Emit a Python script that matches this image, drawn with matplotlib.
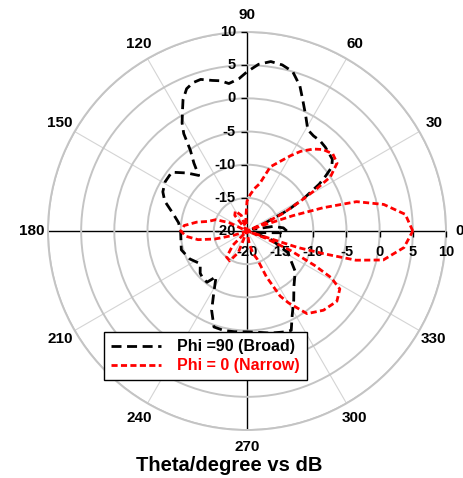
import numpy as np
import matplotlib
matplotlib.use("Agg")
import matplotlib.pyplot as plt
from matplotlib.transforms import offset_copy

plt.rcParams["font.family"] = ["Liberation Sans", "DejaVu Sans"]
plt.rcParams["font.weight"] = "bold"

# Radiation pattern, Phi = 90 plane (broad beam): angle in degrees, gain in dB
broad_theta = [0, 5, 10, 15, 20, 24, 27, 30, 33, 35, 37, 40, 43, 47, 51, 55, 59,
               63, 67, 70, 74, 78, 82, 86, 90, 93, 97, 100, 103, 107, 110, 113,
               116, 118, 121, 123, 125, 128, 131, 136, 142, 149, 155, 160, 167,
               173, 180, 190, 196, 206, 215, 222, 226, 232, 236, 238, 242, 246,
               251, 257, 263, 270, 277, 283, 290, 294, 298, 304, 310, 316, 320,
               326, 332, 340, 348, 353, 357, 360]
broad_db = [-14, -14.5, -16, -19, -19, -17, -13, -10, -7, -5.5, -4, -3.2, -3,
            -2.7, -2.5, -2.5, -2.2, -0.5, 1.5, 3.3, 5, 5.6, 5.8, 5.2, 4, 3, 2.4,
            3, 3.3, 3.9, 3.8, 3.3, 2, 0.7, -1, -2.5, -5.1, -7, -8.9, -7.4, -5.6,
            -5.6, -6, -6.8, -8.6, -9.6, -10, -9.9, -9.7, -10.4, -11.4, -10.5,
            -10.3, -10.2, -11.7, -11, -9.3, -6.9, -4.7, -4.6, -4.7, -4.8, -4.6,
            -4.2, -3.8, -3.6, -5.5, -7.4, -9, -10, -10.5, -12, -13, -16, -19,
            -18, -15, -14]

# Radiation pattern, Phi = 0 plane (narrow beam)
narrow_theta = [0, 6, 11, 15, 17, 18.5, 20, 22, 24, 26, 29, 31, 33, 37, 42, 47,
                51, 56, 60, 65, 70, 75, 80, 85, 90, 95, 100, 110, 120, 128, 135,
                145, 155, 160, 166, 170, 175, 180, 185, 190, 194, 198, 205, 215,
                225, 232, 240, 248, 255, 265, 280, 285, 290, 293, 297, 300, 306,
                314, 322, 328, 331, 333, 336, 339, 340.5, 342, 343.5, 345, 348,
                354, 360]
narrow_db = [5, 4, 1, -2.9, -8, -12.7, -18, -20, -17, -14, -11, -8, -5, -3,
             -2.6, -3.2, -4.1, -5.5, -6.9, -8.5, -9.7, -12.6, -13.5, -14.5,
             -15.5, -18, -20, -17.5, -16.5, -17, -20, -20, -17, -15, -14, -12.3,
             -10.5, -10, -10.8, -12.5, -15, -18, -20, -20, -17, -15, -14.8,
             -16.5, -20, -20, -18, -16.5, -15.5, -12.5, -9, -7.5, -4.6, -3.4,
             -2.8, -3.5, -5.5, -8.5, -12.9, -17, -20, -12, -8, -3, 1, 3.8, 5]

ring_values = [-15, -10, -5, 0, 5, 10]
axis_labels = ["-20", "-15", "-10", "-5", "0", "5", "10"]
axis_values = [-20, -15, -10, -5, 0, 5, 10]
angle_ticks = list(range(0, 360, 30))

fig = plt.figure(figsize=(4.64, 4.78), dpi=100)
ax = fig.add_axes([0.1034, 0.1004, 0.8578, 0.8326], projection="polar")
ax.set_rlim(-20, 10)
ax.set_rticks(ring_values)
ax.set_yticklabels([])
ax.set_xticks(np.deg2rad(angle_ticks))
# the 0 degree label is placed by hand so it stays inside the canvas
ax.set_xticklabels([str(a) if a != 0 else "" for a in angle_ticks],
                   fontsize=11, fontweight="bold")
ax.tick_params(axis="x", pad=2, length=3, color="#c8c8c8", direction="out")
ax.tick_params(axis="y", length=0)
right_off = offset_copy(ax.transData, fig=fig, x=7, y=0, units="points")
ax.text(0, 10, "0", transform=right_off, ha="left", va="center",
        fontsize=11, fontweight="bold", clip_on=False)

ax.yaxis.grid(True, color="#c4c4c4", lw=1.4)
ax.xaxis.grid(True, color="#d4d4d4", lw=0.8)
for ang, gl in zip(angle_ticks, ax.xaxis.get_gridlines()):
    if ang % 90 == 0:
        gl.set_color("black")
        gl.set_linewidth(1.0)
ax.spines["polar"].set_color("#c4c4c4")
ax.spines["polar"].set_linewidth(1.4)

# small ticks on the black cross axes
ax.plot(np.zeros(len(axis_values)), axis_values, ls="none", marker=3,
        ms=4, mew=1, color="black", clip_on=False, zorder=3)
ax.plot(np.full(len(axis_values), np.pi / 2), axis_values, ls="none",
        marker=0, ms=4, mew=1, color="black", clip_on=False, zorder=3)

# radial scale labels along both axes
left_off = offset_copy(ax.transData, fig=fig, x=-8, y=0, units="points")
down_off = offset_copy(ax.transData, fig=fig, x=0, y=-10, units="points")
for v, lab in zip(axis_values, axis_labels):
    ax.text(np.pi / 2, v, lab, transform=left_off, ha="right", va="center",
            fontsize=10.5, fontweight="bold", zorder=4)
    ax.text(0, v, lab, transform=down_off, ha="center", va="top",
            fontsize=10.5, fontweight="bold", zorder=4)

l1, = ax.plot(np.deg2rad(broad_theta), broad_db, color="black", lw=2.0,
              dashes=(3.6, 2.0), label="Phi =90 (Broad)", zorder=5)
l2, = ax.plot(np.deg2rad(narrow_theta), narrow_db, color="#ff0000", lw=2.0,
              dashes=(2.2, 1.2), label="Phi = 0 (Narrow)", zorder=6)

leg = ax.legend(handles=[l1, l2], loc="upper left",
                bbox_to_anchor=(0.224, 0.3054), bbox_transform=fig.transFigure,
                borderaxespad=0, fancybox=False, framealpha=1,
                edgecolor="black", handlelength=3.1, handletextpad=1.05,
                labelspacing=0.25, borderpad=0.45, labelcolor="linecolor",
                prop={"size": 11.5, "weight": "bold"})
leg.get_frame().set_linewidth(1.0)
leg.set_zorder(10)

fig.text(0.495, 0.027, "Theta/degree vs dB", ha="center", va="center",
         fontsize=14.5, fontweight="bold")

fig.savefig("out.png", dpi=100)
